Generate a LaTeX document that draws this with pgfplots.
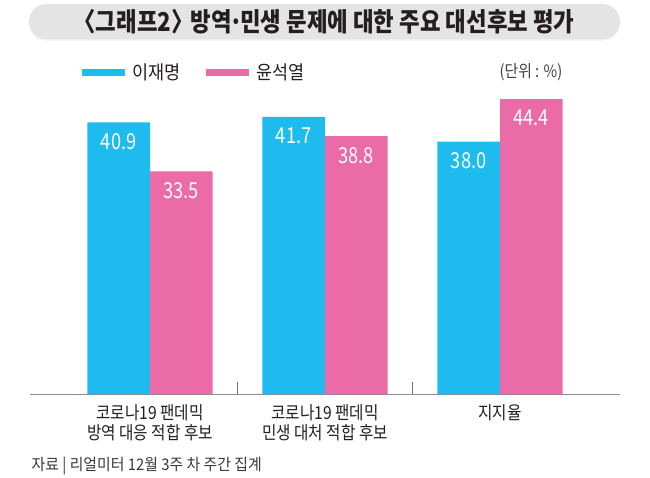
\documentclass[border=0pt]{standalone}
\usepackage{fontspec}
\setmainfont{Noto Sans CJK KR}
\usepackage{graphicx}
\usepackage{pgfplots}
\pgfplotsset{compat=1.18}
\definecolor{cy}{HTML}{1EBBEE}
\definecolor{pk}{HTML}{EA6BA5}
\definecolor{pill}{HTML}{E4E4E4}
\definecolor{txt}{HTML}{231F20}
\newcommand{\cond}[1]{\scalebox{0.87}[1]{#1}}
\newcommand{\condn}[1]{\scalebox{0.83}[1]{#1}}
\begin{document}
\begin{tikzpicture}
\useasboundingbox (0pt,0pt) rectangle (650pt,-477pt);
\fill[black!6, rounded corners=17.5pt] (29pt,-5.5pt) rectangle (620pt,-40.5pt);
\fill[pill, rounded corners=17.5pt] (29pt,-4pt) rectangle (620pt,-39pt);
\node[text=txt, font=\bfseries\fontsize{26}{28}\selectfont] at (324pt,-22pt) {\scalebox{0.86}[1]{〈그래프2〉\hspace{-0.35em} 방역\hspace{-0.12em}·\hspace{-0.12em}민생 문제에 대한 주요 대선후보 평가}};
\node[text=black!75, font=\fontsize{17}{19}\selectfont] at (531pt,-72pt) {\scalebox{0.87}[1]{(단위 : \%)}};
\node[anchor=west, text=black!78, font=\fontsize{16}{18}\selectfont, inner sep=0pt] at (31.5pt,-466.5pt) {\scalebox{0.93}[1]{자료 | 리얼미터 12월 3주 차 주간 집계}};
\begin{axis}[
 at={(30pt,-394pt)}, anchor=south west,
 scale only axis, width=590pt, height=332.2pt,
 xmin=-0.6857, xmax=2.6857, ymin=0, ymax=50,
 ybar=0pt, bar width=62.7pt,
 axis x line=bottom, axis y line=none,
 axis line style={-, draw=black!45, line width=1pt},
 xtick={0,1,2},
 xticklabels={{\cond{코로나19 팬데믹}\\\cond{방역 대응 적합 후보}},{\cond{코로나19 팬데믹}\\\cond{민생 대처 적합 후보}},{\cond{지지율}}},
 xtick style={draw=none},
 xticklabel style={font=\fontsize{18}{19.5}\selectfont, text=txt, align=center, anchor=north, yshift=-5pt},
 ytick=\empty,
 nodes near coords={\condn{\pgfmathprintnumber[fixed,fixed zerofill,precision=1,assume math mode=true]{\pgfplotspointmeta}}},
 nodes near coords style={text=white, font=\fontsize{22}{24}\selectfont, anchor=center, yshift=-19pt},
 legend style={draw=none, fill=none, at={(0.0881,0.9693)}, anchor=west, legend columns=2, font=\fontsize{19}{21}\selectfont, text=txt, /tikz/every odd column/.append style={column sep=5pt}, /tikz/every even column/.append style={column sep=24pt}, inner sep=0pt},
 legend image code/.code={\fill[#1] (0pt,-3.5pt) rectangle (43pt,3.5pt);},
]
\addplot[fill=cy, draw=none] coordinates {(0,40.9) (1,41.7) (2,38.0)};
\addlegendentry{\scalebox{0.92}[1]{이재명}}
\addplot[fill=pk, draw=none] coordinates {(0,33.5) (1,38.8) (2,44.4)};
\addlegendentry{\scalebox{0.92}[1]{윤석열}}
\draw[black!55, line width=0.8pt] (axis cs:0.5,0) -- ++(0pt,12pt);
\draw[black!55, line width=0.8pt] (axis cs:1.5,0) -- ++(0pt,12pt);
\end{axis}
\end{tikzpicture}
\end{document}
